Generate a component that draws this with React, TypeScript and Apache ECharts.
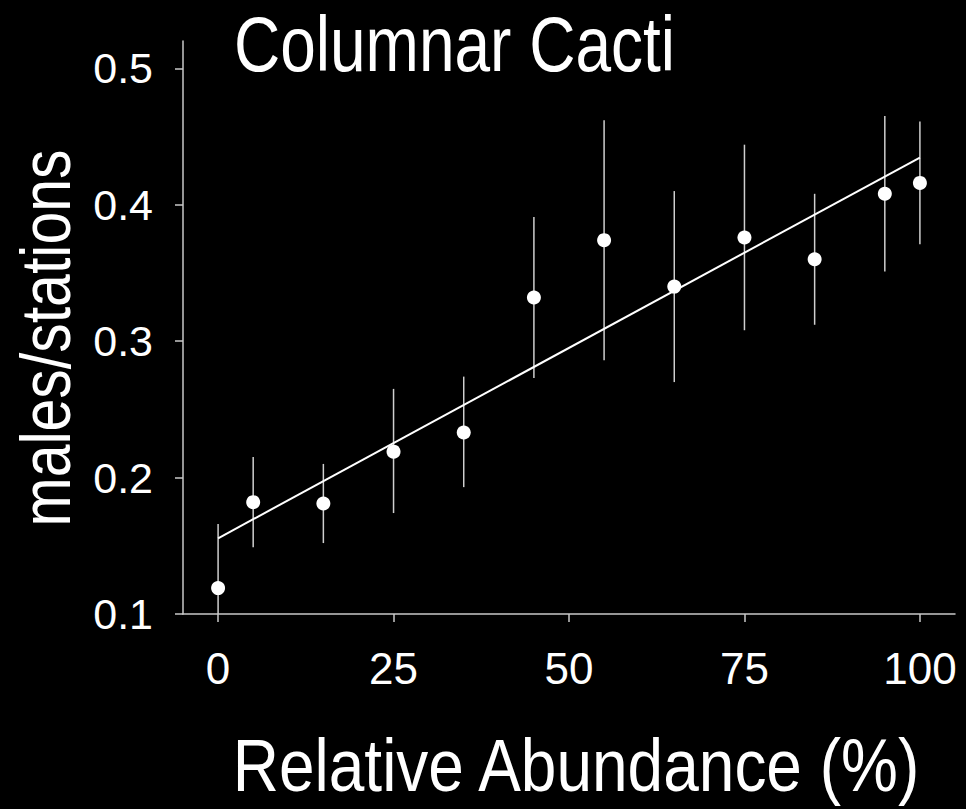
import React, { useEffect, useRef } from "react";
import * as echarts from "echarts";

// Data
const xValues = [0, 5, 15, 25, 35, 45, 55, 65, 75, 85, 95, 100];
const meanValues = [0.119, 0.182, 0.181, 0.219, 0.233, 0.332, 0.374, 0.340, 0.376, 0.360, 0.408, 0.416];
const upperValues = [0.166, 0.215, 0.210, 0.265, 0.274, 0.391, 0.462, 0.410, 0.444, 0.408, 0.465, 0.461];
const lowerValues = [0.072, 0.149, 0.152, 0.174, 0.193, 0.273, 0.286, 0.270, 0.308, 0.312, 0.351, 0.371];
const fitX = [0, 100];
const fitY = [0.1555, 0.4346];
const xTicks = [0, 25, 50, 75, 100];
const yTicks = [0.1, 0.2, 0.3, 0.4, 0.5];

const titleText = "Columnar Cacti";
const xName = "Relative Abundance (%)";
const yName = "males/stations";

const regular = "'Liberation Sans', Arial, Helvetica, sans-serif";

export default function App() {
  const ref = useRef<HTMLDivElement>(null);

  useEffect(() => {
    document.body.style.margin = "0";
    document.body.style.background = "#000";
    if (!ref.current) return;
    const chart = echarts.init(ref.current, null, { renderer: "svg" });

    const axisColor = "#c8c8c8";

    const option: any = {
      animation: false,
      backgroundColor: "#000",
      grid: { left: 183, right: 11, top: 41, bottom: 195, containLabel: false },
      xAxis: {
        type: "value",
        min: -5,
        max: 105,
        splitLine: { show: false },
        axisLine: { show: true, onZero: false, lineStyle: { color: axisColor, width: 1.5 } },
        axisTick: { show: true, customValues: xTicks, length: 8, lineStyle: { color: axisColor, width: 1.5 } },
        axisLabel: {
          customValues: xTicks,
          color: "#fff",
          fontSize: 44,
          fontFamily: regular,
          margin: 32,
        },
      },
      yAxis: {
        type: "value",
        min: 0.1,
        max: 0.52,
        splitLine: { show: false },
        axisLine: { show: true, onZero: false, lineStyle: { color: axisColor, width: 1.5 } },
        axisTick: { show: true, customValues: yTicks, length: 8, lineStyle: { color: axisColor, width: 1.5 } },
        axisLabel: {
          customValues: yTicks,
          color: "#fff",
          fontSize: 43,
          fontFamily: regular,
          margin: 30,
          formatter: (v: number) => v.toFixed(1),
        },
      },
      graphic: [
        {
          type: "text",
          x: 234,
          y: 44,
          scaleY: 1.22,
          style: {
            text: titleText,
            fill: "#fff",
            font: `64px ${regular}`,
            textAlign: "left",
            textVerticalAlign: "middle",
          },
        },
        {
          type: "text",
          x: 576,
          y: 766,
          scaleY: 1.15,
          style: {
            text: xName,
            fill: "#fff",
            font: `64px ${regular}`,
            textAlign: "center",
            textVerticalAlign: "middle",
          },
        },
        {
          type: "text",
          x: 46,
          y: 338,
          rotation: Math.PI / 2,
          scaleY: 1.2,
          style: {
            text: yName,
            fill: "#fff",
            font: `59px ${regular}`,
            textAlign: "center",
            textVerticalAlign: "middle",
          },
        },
      ],
      series: [
        {
          type: "custom",
          clip: true,
          silent: true,
          data: xValues.map((x, i) => [x, lowerValues[i], upperValues[i]]),
          encode: { x: 0, y: [1, 2] },
          renderItem: (params: any, api: any) => {
            const x = api.value(0);
            const lo = api.coord([x, api.value(1)]);
            const hi = api.coord([x, api.value(2)]);
            return {
              type: "line",
              shape: { x1: lo[0], y1: lo[1], x2: hi[0], y2: hi[1] },
              style: { stroke: "#cfcfcf", lineWidth: 1.5 },
            };
          },
          z: 2,
        },
        {
          type: "line",
          data: fitX.map((x, i) => [x, fitY[i]]),
          showSymbol: false,
          symbol: "none",
          lineStyle: { color: "#fff", width: 2 },
          z: 3,
        },
        {
          type: "scatter",
          data: xValues.map((x, i) => [x, meanValues[i]]),
          symbol: "circle",
          symbolSize: 14,
          itemStyle: { color: "#fff", opacity: 1 },
          z: 4,
        },
      ],
    };

    chart.setOption(option);
    return () => chart.dispose();
  }, []);

  return <div ref={ref} style={{ width: 966, height: 809 }} />;
}
